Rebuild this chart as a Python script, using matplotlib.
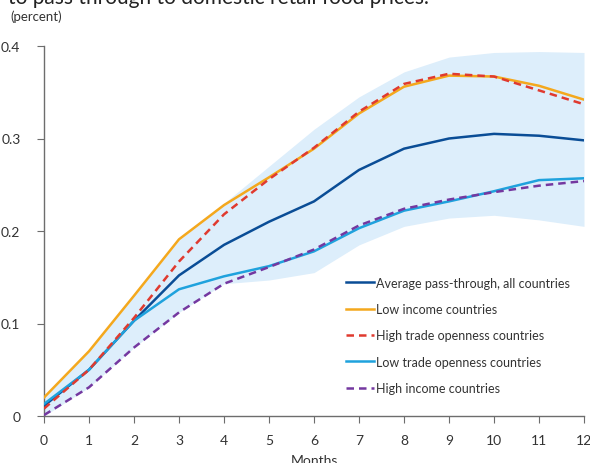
import matplotlib
matplotlib.use("Agg")
import matplotlib.pyplot as plt
import numpy as np

plt.rcParams['font.family'] = ['Lato', 'DejaVu Sans']

months = list(range(13))
avg_all = [0.011, 0.050, 0.103, 0.152, 0.185, 0.210, 0.232, 0.266, 0.289, 0.300, 0.305, 0.303, 0.298]
low_income = [0.020, 0.070, 0.130, 0.191, 0.228, 0.258, 0.289, 0.327, 0.356, 0.368, 0.367, 0.357, 0.342]
high_trade = [0.008, 0.050, 0.106, 0.167, 0.218, 0.256, 0.290, 0.329, 0.359, 0.370, 0.367, 0.352, 0.337]
low_trade = [0.013, 0.050, 0.103, 0.137, 0.151, 0.162, 0.178, 0.203, 0.222, 0.232, 0.243, 0.255, 0.257]
high_income = [0.001, 0.031, 0.074, 0.112, 0.143, 0.161, 0.180, 0.206, 0.224, 0.234, 0.242, 0.249, 0.254]
band_upper = [0.020, 0.070, 0.130, 0.190, 0.230, 0.270, 0.310, 0.345, 0.372, 0.388, 0.393, 0.394, 0.393]
band_lower = [0.000, 0.031, 0.074, 0.112, 0.143, 0.147, 0.155, 0.185, 0.205, 0.214, 0.217, 0.212, 0.205]

labels = ["Average pass-through, all countries", "Low income countries",
          "High trade openness countries", "Low trade openness countries",
          "High income countries"]
yticks = [0, 0.1, 0.2, 0.3, 0.4]
yticklabels = ["0", "0.1", "0.2", "0.3", "0.4"]

fig = plt.figure(figsize=(5.9, 4.64), dpi=100)
ax = fig.add_axes([44/590, 1-417/464, 540/590, 370/464])

ax.fill_between(months, band_lower, band_upper, color='#ddeefb', linewidth=0, zorder=1)
ax.plot(months, avg_all, color='#0a4d96', lw=1.8, label=labels[0], zorder=3)
ax.plot(months, low_income, color='#f4a81d', lw=1.8, label=labels[1], zorder=3)
ax.plot(months, high_trade, color='#e03a2f', lw=1.8, ls=(0, (3, 2)), label=labels[2], zorder=4)
ax.plot(months, low_trade, color='#1fa2dd', lw=1.8, label=labels[3], zorder=3)
ax.plot(months, high_income, color='#7438a0', lw=1.8, ls=(0, (3, 2)), label=labels[4], zorder=4)

ax.set_xlim(0, 12)
ax.set_ylim(0, 0.4)
ax.set_xticks(months)
ax.set_yticks(yticks)
ax.set_yticklabels(yticklabels)
for s in ['top', 'right']:
    ax.spines[s].set_visible(False)
for s in ['left', 'bottom']:
    ax.spines[s].set_color('#6d6d6d')
    ax.spines[s].set_linewidth(1.0)
ax.tick_params(axis='both', colors='#6d6d6d', labelcolor='#333333', labelsize=10, length=5)
ax.tick_params(axis='y', pad=12)
ax.tick_params(axis='x', pad=8)
ax.set_xlabel("Months", fontsize=10, color='#333333', labelpad=6)

leg = ax.legend(loc='lower right', bbox_to_anchor=(0.995, 0.029), frameon=False, fontsize=9,
                handlelength=2.2, handletextpad=0.2, labelspacing=1.15, labelcolor='#333333')

fig.text(8/590, 1-4/464, "to pass through to domestic retail food prices.", fontsize=15,
         color='#222222', va='baseline', ha='left')
fig.text(10/590, 1-17/464, "(percent)", fontsize=9.5, color='#333333', va='center', ha='left')

fig.savefig("out.png", dpi=100)
